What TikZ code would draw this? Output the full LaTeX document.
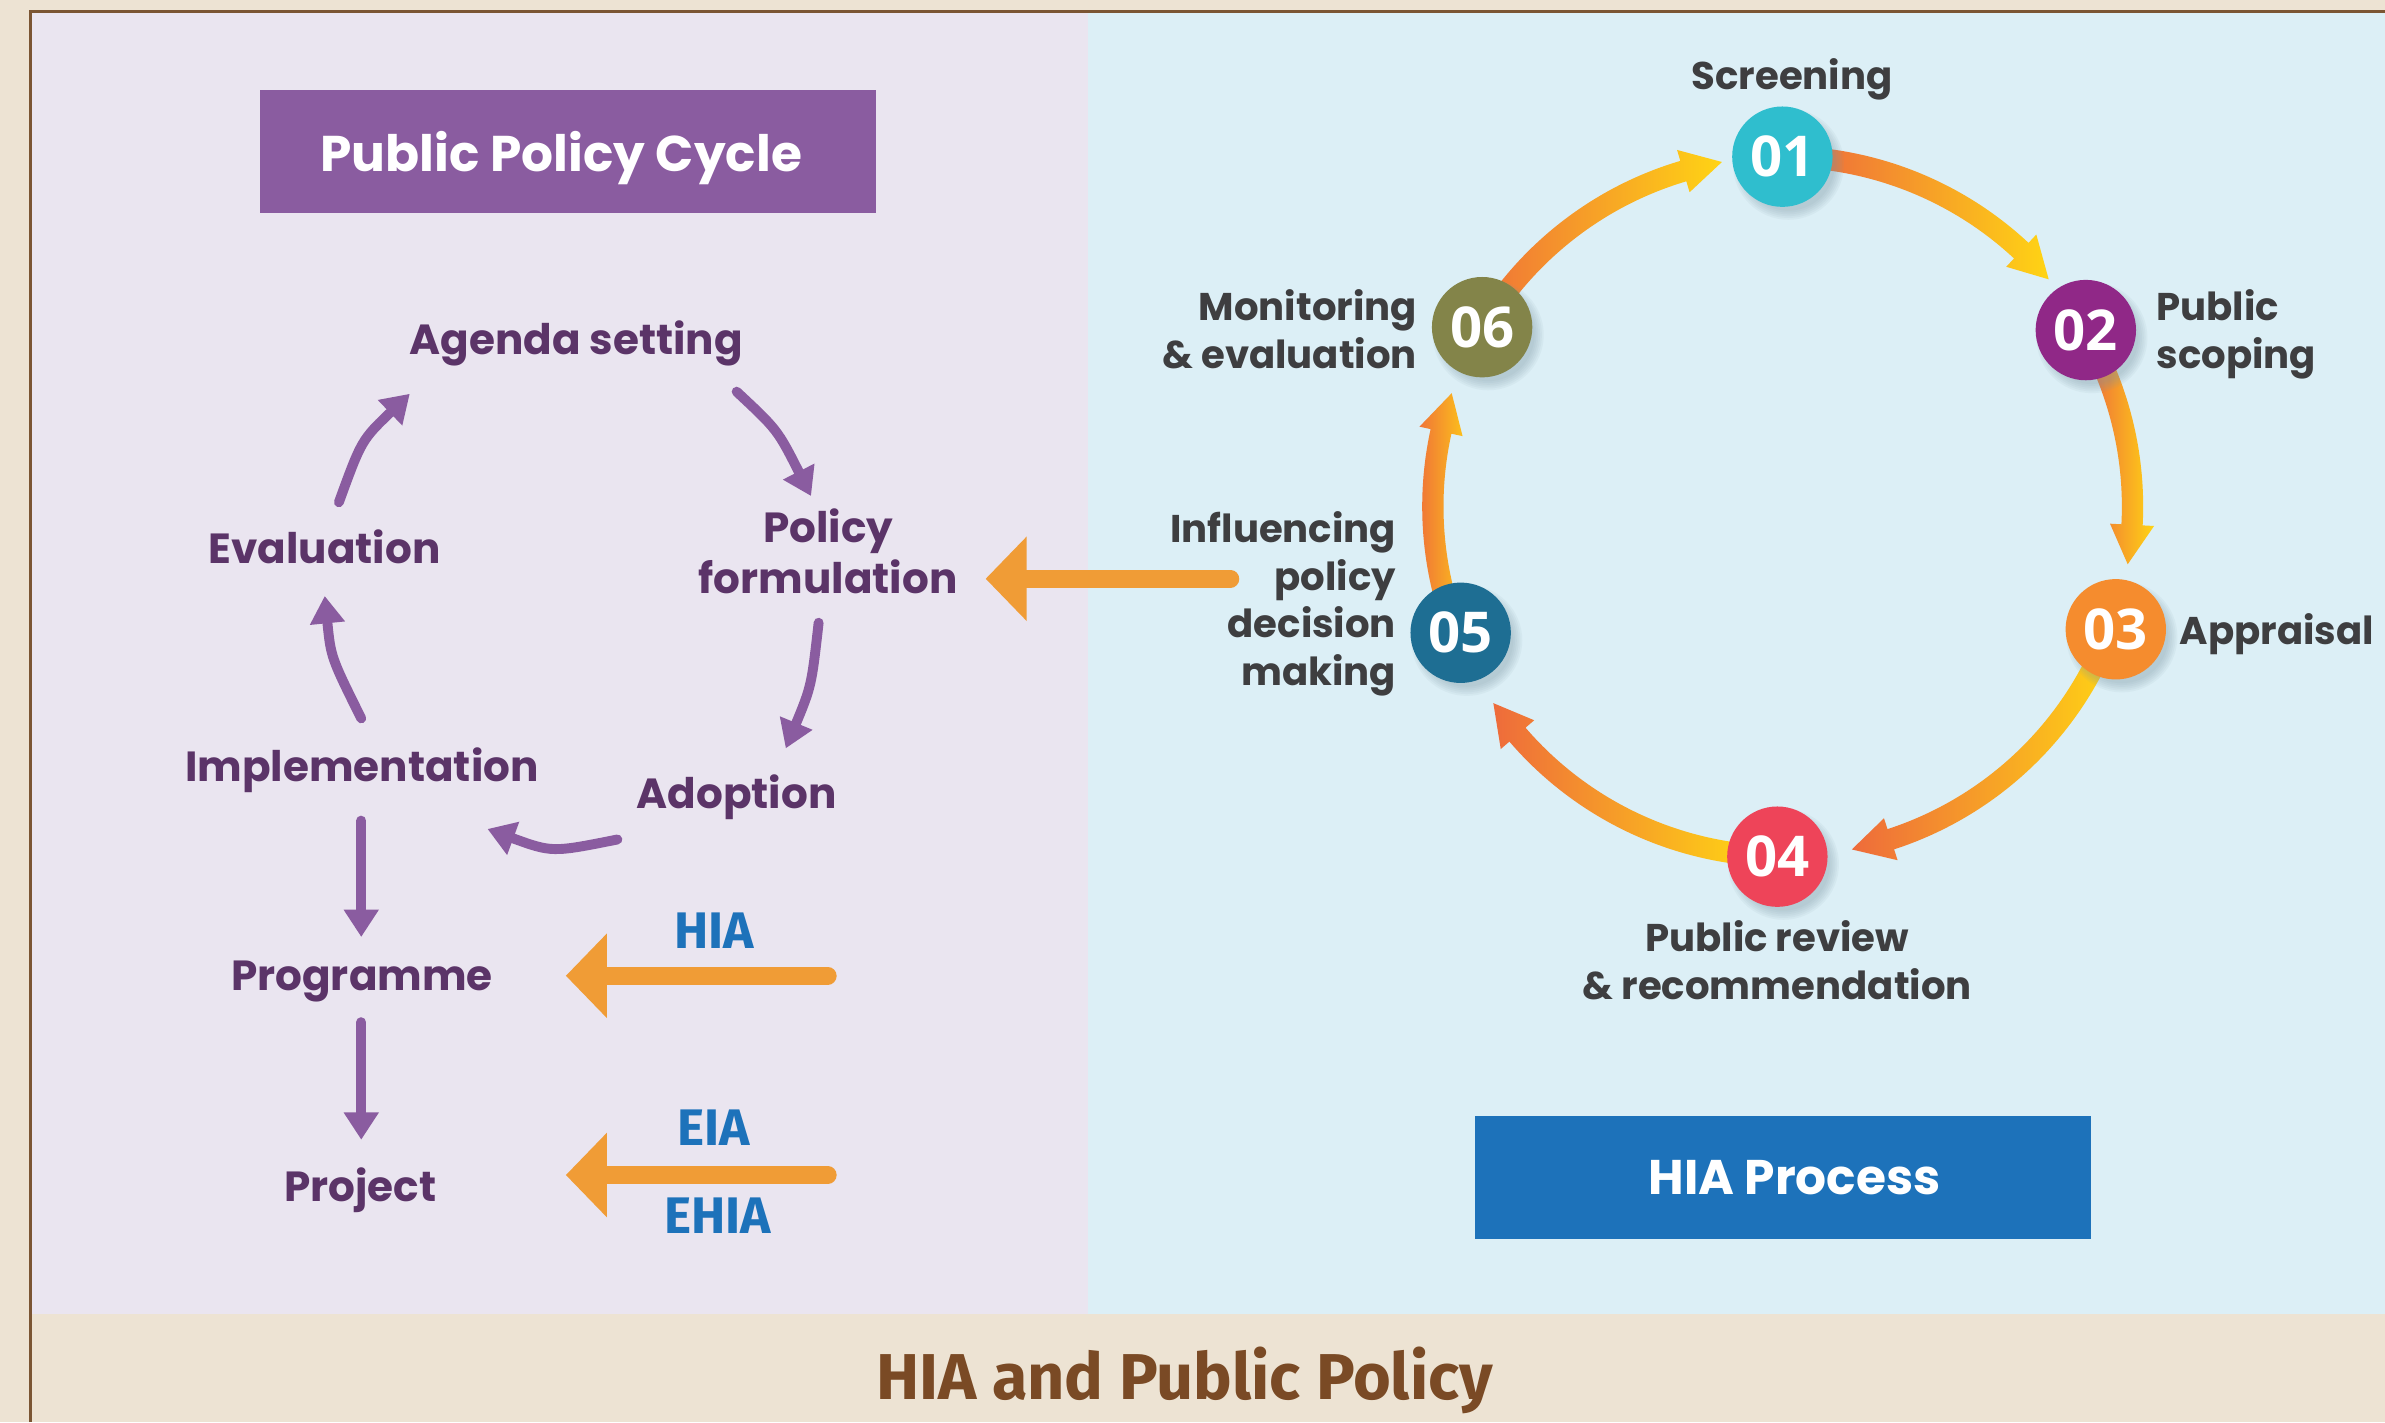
\documentclass[tikz,border=0pt]{standalone}
\usepackage{fontspec}
\usetikzlibrary{arrows.meta}
\newfontfamily\poppins{Poppins}
\newfontfamily\opensans{Open Sans}
\newfontfamily\firasans{Fira Sans}

\definecolor{pagebg}{HTML}{EDE3D3}
\definecolor{lilac}{HTML}{EAE5F0}
\definecolor{skyblue}{HTML}{DCEFF6}
\definecolor{framebrown}{HTML}{7B5533}
\definecolor{boxpurple}{HTML}{8A5CA0}
\definecolor{plum}{HTML}{5B3468}
\definecolor{amber}{HTML}{F09C36}
\definecolor{hiablue}{HTML}{1D72BA}
\definecolor{slate}{HTML}{3E3E40}
\definecolor{titlebrown}{HTML}{7A4A25}
\definecolor{gradorange}{HTML}{EE6B3B}
\definecolor{gradyellow}{HTML}{FFD414}
\definecolor{shadowgray}{HTML}{7F98A4}
\definecolor{stepA}{HTML}{2FBECE}
\definecolor{stepB}{HTML}{902887}
\definecolor{stepC}{HTML}{F58C2E}
\definecolor{stepD}{HTML}{EE4459}
\definecolor{stepE}{HTML}{1E6E93}
\definecolor{stepF}{HTML}{838449}

\tikzset{
  cyclelabel/.style={text=plum, inner sep=0pt,
    font=\poppins\bfseries\fontsize{27.7}{33.8}\selectfont},
  steplabel/.style={text=slate, inner sep=0pt,
    font=\poppins\bfseries\fontsize{25.4}{31.2}\selectfont},
  cyclearrow/.style={draw=boxpurple, line width=6.5pt, line cap=round,
    -{Triangle[length=18pt,width=22pt]}},
  feedarrow/.style={draw=amber, line width=11.5pt, line cap=round,
    -{Triangle[length=27pt,width=54pt]}},
  tooltag/.style={text=hiablue, inner sep=0pt,
    font=\firasans\bfseries\fontsize{33.8}{33.8}\selectfont},
  stepdisc/.style={circle, minimum size=66pt, inner sep=0pt, text=white,
    font=\opensans\bfseries\fontsize{37}{37}\selectfont},
  headerbox/.style={minimum width=405pt, minimum height=80.5pt, inner sep=0pt},
  headertext/.style={text=white, inner sep=0pt,
    font=\poppins\bfseries\fontsize{33}{33}\selectfont},
}

\begin{document}
\begin{tikzpicture}[x=1pt,y=-1pt]
\useasboundingbox (0,0) rectangle (1568,935);

% page, two panels and frame
\fill[pagebg] (0,0) rectangle (1568,935);
\fill[lilac] (21,8) rectangle (715,864);
\fill[skyblue] (715,8) rectangle (1568,864);
\draw[framebrown, line width=2pt] (20,935) -- (20,7.4) -- (1568,7.4);

% ---------- public policy cycle ----------
\node[headerbox, fill=boxpurple] (ppcbox) at (373.6,99.5) {};
\node[headertext, anchor=base] (ppctitle) at (369,113) {Public Policy Cycle};

% multi-line labels are anchored on the baseline of their last line
\node[cyclelabel, anchor=base] (agenda) at (378.9,233.3) {Agenda setting};
\node[cyclelabel, anchor=base, align=center] (formulation) at (544.5,390.4) {Policy\\formulation};
\node[cyclelabel, anchor=base] (adoption) at (484.3,531.4) {Adoption};
\node[cyclelabel, anchor=base] (implementation) at (238,514.1) {Implementation};
\node[cyclelabel, anchor=base] (evaluation) at (213.3,370.4) {Evaluation};
\node[cyclelabel, anchor=base] (programme) at (238,651) {Programme};
\node[cyclelabel, anchor=base] (project) at (237,789.6) {Project};

% arrow end points around the cycle
\coordinate (agOut) at (484.3,257.5);
\coordinate (foIn)  at (533.2,326.1);
\coordinate (foOut) at (538.2,409.4);
\coordinate (adIn)  at (516.6,492);
\coordinate (adOut) at (405.9,551.9);
\coordinate (imIn)  at (320.5,545);
\coordinate (imOut) at (237.5,472.3);
\coordinate (evIn)  at (213.5,391.8);
\coordinate (evOut) at (222.8,330.2);
\coordinate (agIn)  at (269.4,258.9);
\coordinate (imDown) at (237.5,539.5);
\coordinate (prIn)  at (237.5,616);
\coordinate (prDown) at (237.5,672);
\coordinate (pjIn)  at (237.5,749.3);

\draw[cyclearrow] (agOut) .. controls (511.2,282.6) .. (foIn);
\draw[cyclearrow] (foOut) .. controls (533.5,451) .. (adIn);
\draw[cyclearrow] (adOut) .. controls (362.9,560.5) .. (imIn);
\draw[cyclearrow] (imOut) .. controls (217.5,432) .. (evIn);
\draw[cyclearrow] (evOut) .. controls (237.7,289.3) .. (agIn);
\draw[cyclearrow] (imDown) -- (prIn);
\draw[cyclearrow] (prDown) -- (pjIn);

% assessment tools feeding the cycle
\node[tooltag, anchor=base] (hia) at (469.5,623.7) {HIA};
\node[tooltag, anchor=base] (eia) at (469,753.2) {EIA};
\node[tooltag, anchor=base] (ehia) at (472,810.8) {EHIA};

\coordinate (hiaTail) at (544.3,641.5);
\coordinate (hiaTip)  at (372,641.5);
\coordinate (eiaTail) at (544.3,772.5);
\coordinate (eiaTip)  at (372,772.5);
\coordinate (inflTail) at (809,380.5);
\coordinate (inflTip)  at (648,380.5);

\draw[feedarrow] (hiaTail) -- (hiaTip);
\draw[feedarrow] (eiaTail) -- (eiaTip);
\draw[feedarrow] (inflTail) -- (inflTip);

% ---------- HIA process ----------
% gradient arcs between the steps (centre of the ring at 1172,333)
\begin{scope}[shift={(1172,333)}, yscale=-1]
  \foreach \a/\b/\t in {86/47/40.5, 26/-3/-9.5, -22/-72/-78.6,
                        -95/-139.3/-145.8, -155/-192.4/-198.9, -206/-253.5/-260}{
    \shade[left color=gradorange, right color=gradyellow]
      (\a:237) arc[start angle=\a, end angle=\b, radius=237]
      -- (\b:244.5) -- (\t:230) -- (\b:215.5) -- (\b:223)
      arc[start angle=\b, end angle=\a, radius=223] -- cycle;
  }
\end{scope}

% numbered discs with soft shadows
\foreach \n/\x/\y/\c in {01/1171.8/103/stepA, 02/1371.3/217/stepB,
                         03/1391/413.7/stepC, 04/1168.5/563.2/stepD,
                         05/960.3/416/stepE, 06/974.4/215.1/stepF}{
  \foreach \k in {0,...,5}
    \fill[shadowgray, opacity=0.08] (\x+4,\y+5) circle (30.5+\k*1.2);
  \node[stepdisc, fill=\c] (step\n) at (\x,\y) {\n};
}

\node[steplabel, anchor=base] (screening) at (1178.2,58.7) {Screening};
\node[steplabel, anchor=base west, align=left] (scoping) at (1417.6,242.1) {Public\\scoping};
\node[steplabel, anchor=base west] (appraisal) at (1432.8,423.4) {Appraisal};
\node[steplabel, anchor=base, align=center] (review) at (1168.4,657) {Public review\\\& recommendation};
\node[steplabel, anchor=base east, align=right] (influencing) at (918,450.5) {Influencing\\policy\\decision\\making};
\node[steplabel, anchor=base east, align=right] (monitoring) at (931.7,242.1) {Monitoring\\\& evaluation};

\node[headerbox, fill=hiablue] (hiabox) at (1171.9,774) {};
\node[headertext, anchor=base, font=\poppins\bfseries\fontsize{32}{32}\selectfont] (hiatitle) at (1179.8,785.1) {HIA Process};

% caption
\node[anchor=base, text=titlebrown, inner sep=0pt,
      font=\firasans\bfseries\fontsize{42.6}{42.6}\selectfont] (caption) at (778.8,920.4) {HIA and Public Policy};
\end{tikzpicture}
\end{document}
